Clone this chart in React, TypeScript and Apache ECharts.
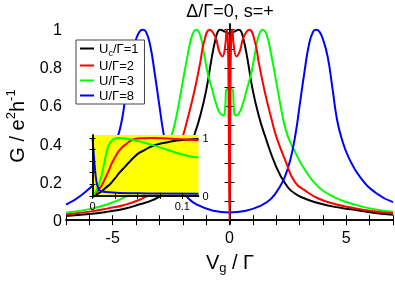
import React, { useEffect, useRef } from 'react';
import * as echarts from 'echarts';

const FONT = 'Liberation Sans, Arial, Helvetica, sans-serif';

// Main panel: G (e^2/h) vs Vg/Γ
const blackMain: [number, number][] = [
  [-7, 0.022], [-6, 0.032], [-5.2, 0.045], [-4.5, 0.06], [-3.8, 0.085], [-3.3, 0.105],
  [-2.8, 0.14], [-2.4, 0.19], [-2, 0.27], [-1.5, 0.45], [-1.25, 0.55], [-1, 0.68],
  [-0.75, 0.86], [-0.6, 0.95], [-0.5, 0.99], [-0.4, 1], [-0.2, 0.99], [0, 0.98],
  [0.2, 0.99], [0.4, 1], [0.5, 0.99], [0.6, 0.95], [0.75, 0.86], [1, 0.68],
  [1.25, 0.55], [1.5, 0.45], [2, 0.28], [2.4, 0.19], [2.8, 0.14], [3.3, 0.11],
  [3.8, 0.09], [4.5, 0.07], [5.2, 0.057], [6, 0.042], [7, 0.028],
];
const redMain: [number, number][] = [
  [-7, 0.03], [-6, 0.045], [-5.2, 0.062], [-4.5, 0.08], [-3.8, 0.11], [-3.3, 0.145],
  [-2.8, 0.2], [-2.4, 0.3], [-2, 0.44], [-1.8, 0.53], [-1.5, 0.68], [-1.25, 0.83],
  [-1.1, 0.93], [-0.85, 1], [-0.6, 0.96], [-0.45, 0.89], [-0.3, 0.86], [-0.18, 0.92],
  [-0.12, 1], [-0.07, 0.95], [-0.03, 0.5], [0, 0], [0.03, 0.5], [0.07, 0.95],
  [0.12, 1], [0.18, 0.92], [0.3, 0.86], [0.45, 0.89], [0.6, 0.96], [0.85, 1],
  [1.1, 0.93], [1.25, 0.83], [1.5, 0.68], [1.8, 0.53], [2, 0.44], [2.4, 0.31],
  [2.8, 0.2], [3.3, 0.15], [3.8, 0.114], [4.5, 0.085], [5.2, 0.067], [6, 0.05], [7, 0.036],
];
const greenMain: [number, number][] = [
  [-7, 0.039], [-6, 0.058], [-5.2, 0.085], [-4.5, 0.12], [-3.8, 0.175], [-3.2, 0.27],
  [-2.8, 0.36], [-2.5, 0.44], [-2.3, 0.53], [-2.07, 0.68], [-1.8, 0.86], [-1.6, 0.97],
  [-1.43, 1], [-1.25, 0.97], [-1.07, 0.86], [-0.93, 0.77], [-0.75, 0.69], [-0.57, 0.61],
  [-0.4, 0.56], [-0.25, 0.55], [-0.18, 0.6], [-0.15, 0.68], [0, 0.69], [0.15, 0.68],
  [0.18, 0.6], [0.25, 0.55], [0.4, 0.56], [0.57, 0.61], [0.75, 0.69], [0.93, 0.77],
  [1.07, 0.86], [1.25, 0.97], [1.43, 1], [1.6, 0.97], [1.8, 0.86], [2.07, 0.68],
  [2.3, 0.53], [2.5, 0.44], [2.8, 0.36], [3.2, 0.27], [3.8, 0.175], [4.5, 0.12],
  [5.2, 0.088], [6, 0.062], [7, 0.044],
];
const blueMain: [number, number][] = [
  [-7, 0.082], [-6.3, 0.135], [-5.6, 0.22], [-5.1, 0.33], [-4.8, 0.43], [-4.6, 0.53],
  [-4.4, 0.7], [-4.2, 0.86], [-4, 0.95], [-3.85, 0.99], [-3.72, 1], [-3.58, 0.99],
  [-3.4, 0.92], [-3.2, 0.77], [-3, 0.6], [-2.83, 0.46], [-2.6, 0.32], [-2.36, 0.23],
  [-2.1, 0.17], [-1.8, 0.12], [-1.4, 0.082], [-0.7, 0.05], [0, 0.041], [0.7, 0.05],
  [1.4, 0.08], [1.8, 0.115], [2.1, 0.165], [2.36, 0.225], [2.6, 0.315], [2.83, 0.455],
  [3, 0.6], [3.2, 0.77], [3.4, 0.92], [3.58, 0.99], [3.72, 1], [3.85, 0.99], [4, 0.95],
  [4.2, 0.86], [4.4, 0.7], [4.6, 0.53], [4.8, 0.43], [5.1, 0.33], [5.6, 0.225],
  [6.3, 0.14], [7, 0.095],
];

// Inset panel
const blackInset: [number, number][] = [
  [0, 0], [0.005, 0.03], [0.01, 0.075], [0.014, 0.13], [0.02, 0.21], [0.025, 0.3],
  [0.03, 0.4], [0.036, 0.5], [0.042, 0.6], [0.047, 0.68], [0.052, 0.74], [0.058, 0.79],
  [0.065, 0.85], [0.073, 0.89], [0.082, 0.92], [0.092, 0.95], [0.105, 0.97], [0.118, 0.98],
];
const redInset: [number, number][] = [
  [0, 0], [0.004, 0.05], [0.008, 0.13], [0.011, 0.2], [0.014, 0.3], [0.018, 0.43],
  [0.0214, 0.56], [0.025, 0.66], [0.0287, 0.76], [0.033, 0.84], [0.038, 0.9], [0.042, 0.95],
  [0.047, 0.98], [0.055, 0.995], [0.066, 1], [0.084, 0.99], [0.1, 0.975], [0.118, 0.96],
];
const greenInset: [number, number][] = [
  [0, 0], [0.003, 0.06], [0.006, 0.15], [0.008, 0.24], [0.0102, 0.36], [0.013, 0.56],
  [0.0158, 0.76], [0.018, 0.87], [0.0214, 0.95], [0.025, 0.99], [0.029, 1], [0.035, 0.99],
  [0.047, 0.96], [0.066, 0.88], [0.084, 0.79], [0.103, 0.7], [0.118, 0.66],
];
const blueInset: [number, number][] = [
  [0, 1], [0.001, 0.8], [0.002, 0.6], [0.0035, 0.35], [0.0047, 0.22], [0.006, 0.15],
  [0.0076, 0.1], [0.01, 0.08], [0.015, 0.065], [0.03, 0.05], [0.06, 0.042], [0.118, 0.038],
];

const seriesNames = ['Uc', 'U2', 'U3', 'U8'];
const legendLabels: Record<string, string> = {
  Uc: '{m|U}{s|c}{m|/Γ=1}',
  U2: '{n|U/Γ=2}',
  U3: '{n|U/Γ=3}',
  U8: '{n|U/Γ=8}',
};
const colors = ['#000000', '#ff0000', '#00ff00', '#0000ff'];

const xTicks = [-7, -6, -5, -4, -3, -2, -1, 0, 1, 2, 3, 4, 5, 6, 7];
const xLabels = [-5, 0, 5];
const yTicks = [0, 0.1, 0.2, 0.3, 0.4, 0.5, 0.6, 0.7, 0.8, 0.9, 1];
const yLabels = [0, 0.2, 0.4, 0.6, 0.8, 1];
const insetXTicks = [0, 0.025, 0.05, 0.075, 0.1];
const insetXLabels = [0, 0.1];
const insetYTicks = [0, 0.2, 0.4, 0.6, 0.8, 1];
const insetYLabels = [0, 1];

export default function App() {
  const ref = useRef<HTMLDivElement>(null);
  useEffect(() => {
    const chart = echarts.init(ref.current!, null, { renderer: 'svg' });
    const axisLine = { show: true, lineStyle: { color: '#000', width: 1.5 } };
    const mainTick = (vals: number[]) => ({ show: true, inside: true, length: 5, customValues: vals, lineStyle: { color: '#000', width: 1 } });
    const insetTick = (vals: number[]) => ({ show: true, inside: true, length: 3, customValues: vals, lineStyle: { color: '#000', width: 1 } });
    const mainData = [blackMain, redMain, greenMain, blueMain];
    const insetData = [blackInset, redInset, greenInset, blueInset];
    const option: any = {
      animation: false,
      grid: [
        { left: 66, top: 24, width: 327, height: 200, containLabel: false },
        { left: 92.5, top: 135, width: 106, height: 62, show: true, backgroundColor: '#ffff00', borderWidth: 0, z: 10 },
      ],
      xAxis: [
        { gridIndex: 0, type: 'value', position: 'bottom', min: -7, max: 7, axisLine, axisTick: mainTick(xTicks),
          axisLabel: { customValues: xLabels, fontSize: 16, color: '#000', fontFamily: FONT, margin: 5 }, splitLine: { show: false } },
        { gridIndex: 0, type: 'value', position: 'top', min: -7, max: 7, axisLine, axisTick: mainTick(xTicks),
          axisLabel: { show: false }, splitLine: { show: false } },
        { gridIndex: 1, type: 'value', position: 'bottom', min: 0, max: 0.118, axisLine, axisTick: insetTick(insetXTicks), z: 12,
          axisLabel: { customValues: insetXLabels, fontSize: 11, color: '#000', fontFamily: FONT, margin: 3 }, splitLine: { show: false } },
        { gridIndex: 1, type: 'value', position: 'top', min: 0, max: 0.118, axisLine, axisTick: insetTick(insetXTicks), z: 12,
          axisLabel: { show: false }, splitLine: { show: false } },
      ],
      yAxis: [
        { gridIndex: 0, type: 'value', position: 'left', min: -0.02, max: 1.03, axisLine, axisTick: mainTick(yTicks),
          axisLabel: { customValues: yLabels, fontSize: 16, color: '#000', fontFamily: FONT, margin: 4 }, splitLine: { show: false } },
        { gridIndex: 0, type: 'value', position: 'right', min: -0.02, max: 1.03, axisLine, axisTick: mainTick(yTicks),
          axisLabel: { show: false }, splitLine: { show: false } },
        { gridIndex: 1, type: 'value', position: 'left', min: -0.02, max: 1.05, axisLine, axisTick: insetTick(insetYTicks), z: 12,
          axisLabel: { show: false }, splitLine: { show: false } },
        { gridIndex: 1, type: 'value', position: 'right', min: -0.02, max: 1.05, axisLine, axisTick: insetTick(insetYTicks), z: 12,
          axisLabel: { customValues: insetYLabels, fontSize: 11, color: '#000', fontFamily: FONT, margin: 4 }, splitLine: { show: false } },
      ],
      legend: {
        data: seriesNames,
        orient: 'vertical',
        left: 76,
        top: 40,
        icon: 'rect',
        itemWidth: 14,
        itemHeight: 2,
        itemGap: 2,
        padding: [2, 6, 2, 4],
        borderColor: '#444',
        borderWidth: 1,
        backgroundColor: '#fff',
        formatter: (name: string) => legendLabels[name],
        textStyle: {
          color: '#000', fontFamily: FONT, fontSize: 13,
          rich: {
            m: { fontSize: 13, fontFamily: FONT, color: '#000', lineHeight: 17 },
            n: { fontSize: 13, fontFamily: FONT, color: '#000', lineHeight: 15 },
            s: { fontSize: 9, fontFamily: FONT, color: '#000', lineHeight: 9, verticalAlign: 'bottom' },
          },
        },
      },
      series: [
        ...mainData.map((d, i) => ({
          name: seriesNames[i], type: 'line', xAxisIndex: 0, yAxisIndex: 0, data: d,
          showSymbol: false, symbol: 'none', smooth: 0.5,
          lineStyle: { color: colors[i], width: 2 }, itemStyle: { color: colors[i] },
          z: i === 1 ? 4 : 2,
        })),
        ...insetData.map((d, i) => ({
          name: seriesNames[i], type: 'line', xAxisIndex: 2, yAxisIndex: 2, data: d,
          showSymbol: false, symbol: 'none', smooth: 0.5,
          lineStyle: { color: colors[i], width: 2 }, itemStyle: { color: colors[i] },
          z: 11,
        })),
      ],
      graphic: [
        { type: 'text', x: 230, y: 11, style: { text: 'Δ/Γ=0, s=+', fill: '#000', font: `18px ${FONT}`, align: 'center', verticalAlign: 'middle' } },
        { type: 'text', x: 230, y: 262, style: {
          text: '{a|V}{b|g}{a| / Γ}', fill: '#000', align: 'center', verticalAlign: 'middle',
          rich: { a: { fontSize: 20, fontFamily: FONT, lineHeight: 24 }, b: { fontSize: 13, fontFamily: FONT, lineHeight: 11, verticalAlign: 'bottom' } },
        } },
        { type: 'text', x: 17, y: 126, rotation: Math.PI / 2, style: {
          text: '{a|G / e}{p|2}{a|h}{p|-1}', fill: '#000', align: 'center', verticalAlign: 'middle',
          rich: { a: { fontSize: 20, fontFamily: FONT, lineHeight: 26 }, p: { fontSize: 13, fontFamily: FONT, lineHeight: 13, verticalAlign: 'top' } },
        } },
      ],
    };
    chart.setOption(option);
    return () => chart.dispose();
  }, []);
  return <div ref={ref} style={{ position: 'fixed', left: 0, top: 0, width: 395, height: 284 }} />;
}
